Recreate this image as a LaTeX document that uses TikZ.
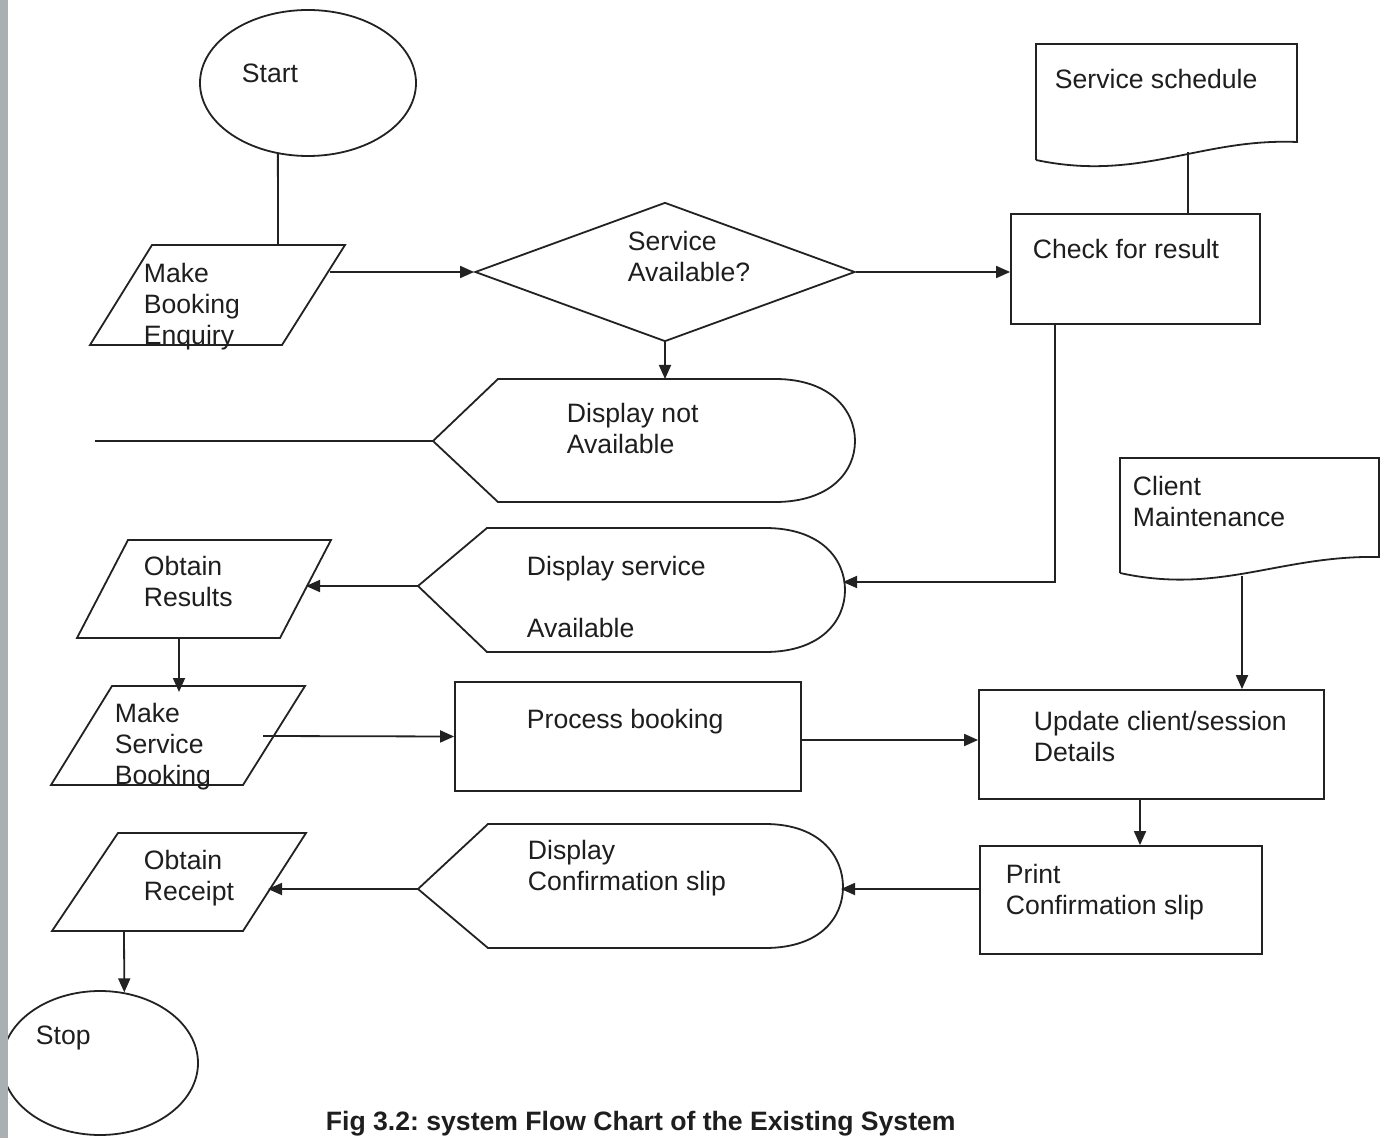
\documentclass[tikz,border=0pt]{standalone}
\usepackage{fontspec}
\setmainfont{Liberation Sans}
\usetikzlibrary{shapes.geometric,arrows.meta}
\definecolor{ln}{HTML}{222222}
\definecolor{tx}{HTML}{1E1E1E}
\definecolor{barcol}{HTML}{A8B0B4}
\frenchspacing
\begin{document}
\begin{tikzpicture}[x=0.5pt,y=-0.5pt,
  line width=0.9pt,
  shp/.style={draw=ln, line width=0.9pt},
  arr/.style={draw=ln, line width=0.9pt, -{Triangle[length=7pt,width=6pt]}},
  lnk/.style={draw=ln, line width=0.9pt},
  txt/.style={anchor=north west, inner sep=0pt, align=left, text=tx,
              font=\fontsize{13.3pt}{15.5pt}\selectfont},
  box/.style={draw=ln, line width=0.9pt, rectangle, inner sep=0pt},
  ell/.style={draw=ln, line width=0.9pt, ellipse, inner sep=0pt},
  dia/.style={draw=ln, line width=0.9pt, diamond, inner sep=0pt,
              minimum width=190pt, minimum height=69.5pt}]
\fill[white] (0,0) rectangle (1381,1138);
\useasboundingbox (0,0) rectangle (1381,1138);

% Start
\node[ell, minimum width=108pt, minimum height=73pt] (start) at (308,83) {};
\node[txt] (tstart) at (241,63) {Start};

% Make Booking Enquiry
\draw[shp] (90,345) -- (152,245) -- (345,245) -- (282,345) -- cycle;
\node[txt] (tmbe) at (143,262) {Make\\Booking\\Enquiry};
\coordinate (mbe-t) at (278,245);
\coordinate (mbe-r) at (330,272);
\draw[lnk] (start.-113) -- (mbe-t);

% Decision
\node[dia] (avail) at (665,272) {};
\node[txt] (tavail) at (627,230) {Service\\Available?};
\draw[arr] (mbe-r) -- (avail.west);

% Check for result
\node[box, minimum width=124.5pt, minimum height=55pt] (check) at (1135.5,269) {};
\node[txt] (tcheck) at (1032,238) {Check for result};
\draw[arr] (avail.east) -- (avail.east -| check.west);

% Service schedule document
\draw[shp] (1036,160) -- (1036,44) -- (1297,44) -- (1297,142)
  .. controls (1200,138) and (1140,182) .. (1036,160);
\node[txt] (tss) at (1054,68) {Service schedule};
\coordinate (ss-b) at (1188,152);
\draw[lnk] (ss-b) -- (ss-b |- check.north);

% Display not Available
\draw[shp] (433,441) -- (498,379) -- (775,379)
  .. controls (830,379) and (855,410) .. (855,441)
  .. controls (855,472) and (830,502) .. (775,502) -- (498,502) -- cycle;
\node[txt] (tdna) at (566,402) {Display not\\Available};
\coordinate (dna-t) at (665,379);
\coordinate (dna-l) at (433,441);
\coordinate (dna-end) at (95,441);
\draw[arr] (avail.south) -- (dna-t);
\draw[lnk] (dna-l) -- (dna-end);

% Display service Available
\draw[shp] (418,586) -- (487,528) -- (765,528)
  .. controls (822,528) and (845,560) .. (845,590)
  .. controls (845,620) and (822,652) .. (765,652) -- (487,652) -- cycle;
\node[txt] (tdsa) at (526,555) {Display service\\[15.5pt]Available};
\coordinate (dsa-r) at (843,582);
\coordinate (dsa-l) at (418,586);
\coordinate (ck-b) at (1055,324);
\draw[arr] (ck-b) |- (dsa-r);

% Obtain Results
\draw[shp] (77,638) -- (128,540) -- (331,540) -- (280,638) -- cycle;
\node[txt] (tor) at (143,555) {Obtain\\Results};
\coordinate (or-r) at (306,586);
\coordinate (or-b) at (179,638);
\draw[arr] (dsa-l) -- (or-r);

% Make Service Booking
\draw[shp] (51,785) -- (112,686) -- (305,686) -- (243,785) -- cycle;
\node[txt] (tmsb) at (114,702) {Make\\Service\\Booking};
\coordinate (msb-t) at (179,692);
\coordinate (msb-r) at (263,736);
\draw[arr] (or-b) -- (msb-t);

% Process booking
\node[box, minimum width=173pt, minimum height=54.5pt] (process) at (628,736.5) {};
\node[txt] (tproc) at (526,708) {Process booking};
\draw[arr] (msb-r) -- (process.west);

% Update client/session Details
\node[box, minimum width=172.5pt, minimum height=54.5pt] (update) at (1151.5,744.5) {};
\node[txt] (tupd) at (1033,710) {Update client/session\\Details};
\coordinate (pr-e) at (801,740);
\draw[arr] (pr-e) -- (pr-e -| update.west);

% Client Maintenance document
\draw[shp] (1120,573) -- (1120,458) -- (1379,458) -- (1379,557)
  .. controls (1280,555) and (1220,595) .. (1120,573);
\node[txt] (tcm) at (1132,475) {Client\\Maintenance};
\coordinate (cm-b) at (1242,576);
\draw[arr] (cm-b) -- (cm-b |- update.north);

% Print Confirmation slip
\node[box, minimum width=141pt, minimum height=54pt] (print) at (1121,900) {};
\node[txt] (tprint) at (1005,863) {Print\\Confirmation slip};
\coordinate (up-b) at (1140,799);
\draw[arr] (up-b) -- (up-b |- print.north);

% Display Confirmation slip
\draw[shp] (418,889) -- (488,824) -- (765,824)
  .. controls (822,824) and (843,858) .. (843,887)
  .. controls (843,916) and (822,948) .. (765,948) -- (488,948) -- cycle;
\node[txt] (tdcs) at (527,839) {Display\\Confirmation slip};
\coordinate (dcs-r) at (841,889);
\coordinate (dcs-l) at (418,889);
\draw[arr] (print.west |- dcs-r) -- (dcs-r);

% Obtain Receipt
\draw[shp] (52,931) -- (118,833) -- (306,833) -- (243,931) -- cycle;
\node[txt] (trec) at (143,849) {Obtain\\Receipt};
\coordinate (rec-r) at (268,889);
\coordinate (rec-b) at (124,931);
\draw[arr] (dcs-l) -- (rec-r);

% Stop
\node[ell, minimum width=98pt, minimum height=72pt] (stop) at (100,1063) {};
\node[txt] (tstop) at (35,1025) {Stop};
\draw[arr] (rec-b) -- (stop.71);

% Caption
\node[txt, font=\bfseries\fontsize{13.3pt}{15.5pt}\selectfont] (cap) at (325,1110)
  {Fig 3.2: system Flow Chart of the Existing System};

% left grey margin
\fill[barcol] (0,0) rectangle (8,1138);
\end{tikzpicture}
\end{document}
